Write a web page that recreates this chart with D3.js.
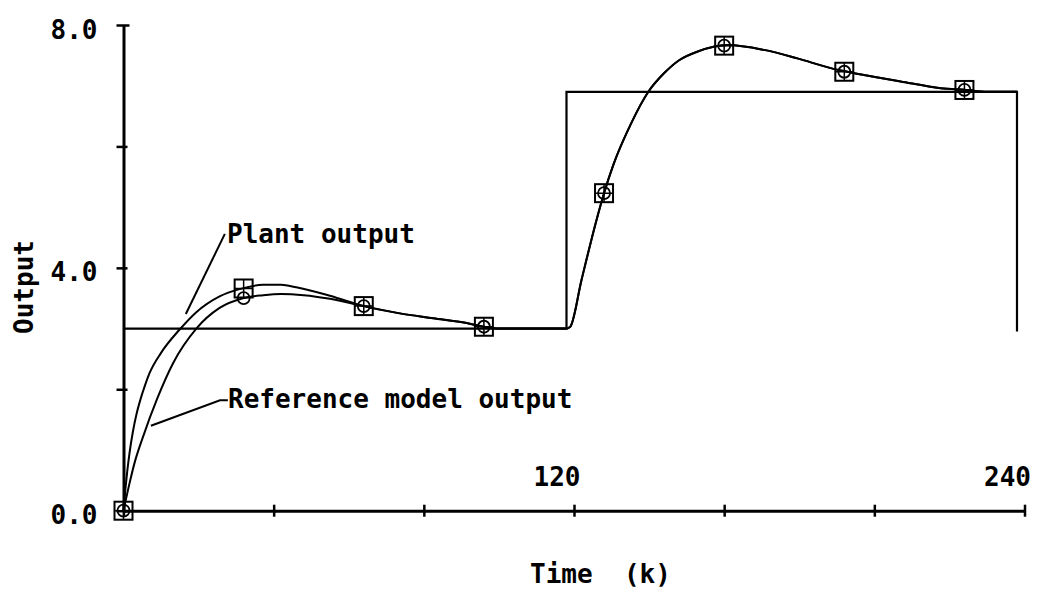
<!DOCTYPE html>
<html><head><meta charset="utf-8">
<script src="https://cdn.jsdelivr.net/npm/d3@7"></script>
<style>
html,body{margin:0;padding:0;background:#fff;}
svg text{font-family:"DejaVu Sans Mono",monospace;font-weight:bold;fill:#000;}
</style></head><body>
<svg id="chart" width="1043" height="593"></svg>
<script>
// ---- data ----
const plantK = [0, 0.5, 1, 1.6, 2.5, 3.5, 4.5, 5.7, 6.9, 10, 14.9, 19.4, 25.6, 30.9, 37.2, 42, 46, 55, 64, 73.6, 82.5, 91.4, 96, 100.3, 106, 118, 119, 122, 126, 128, 130.5, 135, 139.8, 143.9, 148, 152.8, 160.9, 170.6, 179.5, 188.4, 192.8, 207, 217.7, 224.4, 230, 238];
const plantV = [0, 0.35, 0.65, 0.95, 1.3, 1.6, 1.83, 2.06, 2.26, 2.6, 2.98, 3.27, 3.53, 3.65, 3.72, 3.72, 3.68, 3.54, 3.37, 3.25, 3.17, 3.09, 3.03, 3.0, 3.0, 3.0, 3.03, 3.8, 4.79, 5.23, 5.7, 6.35, 6.9, 7.2, 7.42, 7.56, 7.67, 7.59, 7.45, 7.29, 7.23, 7.07, 6.96, 6.93, 6.9, 6.9];
const refK = [0, 1.6, 3, 5.1, 9, 13.2, 19.4, 25.6, 31.8, 37.2, 42, 48, 55, 64, 73.6, 82.5, 91.4, 96, 100.3, 106, 118, 119, 122, 126, 128, 130.5, 135, 139.8, 143.9, 148, 152.8, 160.9, 170.6, 179.5, 188.4, 192.8, 207, 217.7, 224.4, 230, 238];
const refV = [0, 0.45, 0.8, 1.2, 1.85, 2.43, 3.0, 3.34, 3.5, 3.55, 3.57, 3.55, 3.49, 3.37, 3.25, 3.17, 3.09, 3.03, 3.0, 3.0, 3.0, 3.03, 3.8, 4.79, 5.23, 5.7, 6.35, 6.9, 7.2, 7.42, 7.56, 7.67, 7.59, 7.45, 7.29, 7.23, 7.07, 6.96, 6.93, 6.9, 6.9];
const stepK = [0, 118, 118, 238, 238];
const stepV = [3.0, 3.0, 6.9, 6.9, 2.95];
const markerK = [0, 32, 64, 96, 128, 160, 192, 224];
const plantMarkV = [0, 3.66, 3.37, 3.03, 5.23, 7.66, 7.23, 6.93];
const refMarkV = [0, 3.5, 3.37, 3.03, 5.23, 7.66, 7.23, 6.93];
const xTicks = [0, 40, 80, 120, 160, 200, 240];
const xLabelVals = [120, 240];
const xTickLabels = ["120", "240"];
const yTicks = [0, 2, 4, 6, 8];
const yLabelVals = [0, 4, 8];
const yTickLabels = ["0.0", "4.0", "8.0"];
const xTitle = "Time  (k)";
const yTitle = "Output";
const plantLabel = "Plant output";
const refLabel = "Reference model output";

// ---- drawing ----
const svg = d3.select("#chart");
const x = d3.scaleLinear().domain([0, 240]).range([123.5, 1024.5]);
const y = d3.scaleLinear().domain([0, 8]).range([510.7, 25]);

// x axis
const gx = svg.append("g").attr("transform", `translate(0,${y(0)})`)
  .call(d3.axisBottom(x).tickValues(xTicks).tickSizeOuter(0)
    .tickFormat(d => { const i = xLabelVals.indexOf(d); return i >= 0 ? xTickLabels[i] : ""; }));
gx.select(".domain").attr("stroke", "#000").attr("stroke-width", 3);
gx.selectAll(".tick line").attr("y1", -6).attr("y2", 6).attr("stroke", "#000").attr("stroke-width", 2.5);
gx.selectAll(".tick text").attr("y", -25).attr("dy", 0).attr("x", 6)
  .attr("text-anchor", "end").attr("font-size", 26).style("font-family", '"DejaVu Sans Mono",monospace').style("font-weight", "bold");

// y axis
const gy = svg.append("g").attr("transform", `translate(${x(0)},0)`)
  .call(d3.axisLeft(y).tickValues(yTicks).tickSizeOuter(0)
    .tickFormat(d => { const i = yLabelVals.indexOf(d); return i >= 0 ? yTickLabels[i] : ""; }));
gy.select(".domain").attr("stroke", "#000").attr("stroke-width", 3);
gy.selectAll(".tick line").attr("x1", -7).attr("x2", d => d === 8 ? 6 : 4).attr("stroke", "#000").attr("stroke-width", 2.5);
gy.selectAll(".tick text").attr("x", -26).attr("dy", 13)
  .attr("text-anchor", "end").attr("font-size", 26).style("font-family", '"DejaVu Sans Mono",monospace').style("font-weight", "bold");

// reference input (step)
const stepLine = d3.line().x((d, i) => x(stepK[i])).y((d, i) => y(stepV[i]));
svg.append("path").attr("d", stepLine(stepK)).attr("fill", "none").attr("stroke", "#000").attr("stroke-width", 2.2);

// curves
const curveLine = (ks, vs) => d3.line().curve(d3.curveMonotoneX).x((d, i) => x(ks[i])).y((d, i) => y(vs[i]))(ks);
svg.append("path").attr("d", curveLine(refK, refV)).attr("fill", "none").attr("stroke", "#000").attr("stroke-width", 2);
svg.append("path").attr("d", curveLine(plantK, plantV)).attr("fill", "none").attr("stroke", "#000").attr("stroke-width", 2);

// markers
const mk = svg.append("g");
markerK.forEach((k, i) => {
  const cx = x(k), cyr = y(refMarkV[i]);
  mk.append("circle").attr("cx", cx).attr("cy", cyr).attr("r", 6)
    .attr("fill", "none").attr("stroke", "#000").attr("stroke-width", 1.8);
});
markerK.forEach((k, i) => {
  const cx = x(k), cy = y(plantMarkV[i]), s = 9;
  mk.append("rect").attr("x", cx - s).attr("y", cy - s).attr("width", 2 * s).attr("height", 2 * s)
    .attr("fill", "none").attr("stroke", "#000").attr("stroke-width", 2);
  mk.append("path").attr("d", `M${cx},${cy - s}V${cy + s}M${cx - s},${cy}H${cx + s}`)
    .attr("stroke", "#000").attr("stroke-width", 1.5);
});

// annotations
const ann = svg.append("g");
ann.append("path").attr("d", `M${x(27.0)},${y(4.56)}L${x(16.6)},${y(3.24)}`)
  .attr("stroke", "#000").attr("stroke-width", 2).attr("fill", "none");
ann.append("path").attr("d", `M${x(27.8)},${y(1.82)}L${x(25.7)},${y(1.82)}L${x(7.3)},${y(1.40)}`)
  .attr("stroke", "#000").attr("stroke-width", 2).attr("fill", "none");
ann.append("text").attr("x", 227).attr("y", 243).attr("font-size", 26).text(plantLabel);
ann.append("text").attr("x", 228).attr("y", 408).attr("font-size", 26).text(refLabel);

// axis titles
svg.append("text").attr("x", 530).attr("y", 583).attr("font-size", 26)
  .style("white-space", "pre").attr("xml:space", "preserve").text(xTitle);
svg.append("text").attr("transform", "translate(33,287) rotate(-90)").attr("text-anchor", "middle")
  .attr("font-size", 26).text(yTitle);
</script>
</body></html>
